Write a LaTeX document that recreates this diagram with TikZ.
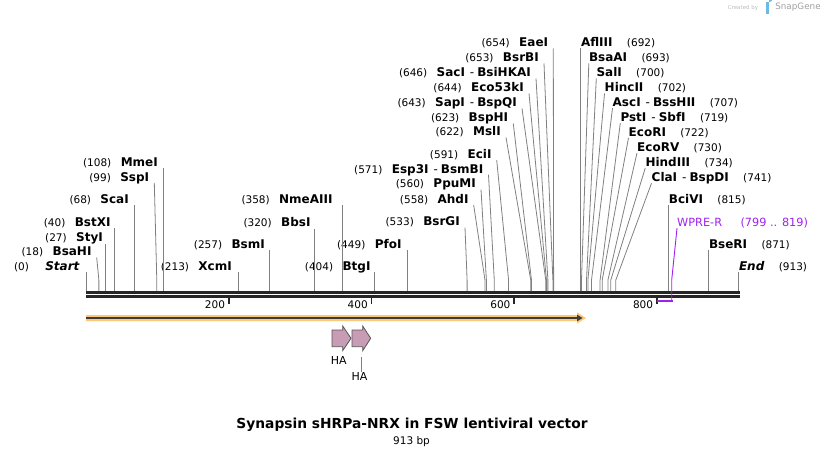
\documentclass[tikz,border=0pt]{standalone}
\usepackage{fontspec}
\setmainfont{DejaVu Sans}
\usetikzlibrary{positioning}

\definecolor{cutline}{HTML}{808080}
\definecolor{spine}{HTML}{262626}
\definecolor{featglow}{HTML}{FCC97A}
\definecolor{featcore}{HTML}{3C3C3C}
\definecolor{hapink}{HTML}{C99CB6}
\definecolor{haedge}{HTML}{555555}
\definecolor{primercol}{HTML}{A020F0}
\definecolor{wmgray}{HTML}{A0A0A0}
\definecolor{wmblue}{HTML}{6FB8E6}

\newcommand{\isodash}{\hspace{5pt}\textmd{-}\hspace{3pt}}

\begin{document}
\begin{tikzpicture}[x=1pt, y=-1pt,
    enz/.style={font=\bfseries\fontsize{12}{14}\selectfont, inner sep=0pt, text depth=1.5pt},
    num/.style={font=\fontsize{10.5}{12}\selectfont, inner sep=0pt},
    prim/.style={font=\fontsize{11.3}{13}\selectfont, inner sep=0pt, text depth=1.5pt, text=primercol},
    cut/.style={cutline, line width=0.8pt},
    tick/.style={spine, line width=1.8pt},
    feat/.style={fill=hapink, draw=haedge, line width=0.8pt}
]
    \useasboundingbox (0,0) rectangle (826,457);

    % cut positions on the backbone
    \foreach \p in {0,18,27,40,68,99,108,213,257,320,358,404,449,533,558,560,571,591,
                    622,623,643,644,646,653,654,692,693,700,702,707,719,722,730,734,741,815,871,913}
        \coordinate (s\p) at ({86+0.715*\p},291);

    % backbone and ruler
    \draw[spine, line width=3pt] (86,292.5) -- (740,292.5);
    \draw[spine, line width=2.7pt] (86,296.7) -- (740,296.7);
    \foreach \t in {200,400,600,800} {
        \draw[tick] ({86+0.7135*\t},298) -- ({86+0.7135*\t},304);
        \node[num, anchor=base east] (tick\t) at ({82.5+0.7135*\t},308.5) {\t};
    }

    % sites, labels on the left
    \node[enz, anchor=base east] (seqstart) at (80,270.5) {\textit{Start}};
    \node[enz, anchor=base east] (bsahi) at (91.7,255.8) {BsaHI};
    \node[enz, anchor=base east] (styi) at (103,241.8) {StyI};
    \node[enz, anchor=base east] (bstxi) at (110.7,226.5) {BstXI};
    \node[enz, anchor=base east] (scai) at (129,203.5) {ScaI};
    \node[enz, anchor=base east] (sspi) at (149.3,181.2) {SspI};
    \node[enz, anchor=base east] (mmei) at (158,166.8) {MmeI};
    \node[enz, anchor=base east] (xcmi) at (232,270.5) {XcmI};
    \node[enz, anchor=base east] (bsmi) at (265,248.5) {BsmI};
    \node[enz, anchor=base east] (bbsi) at (310.7,226.8) {BbsI};
    \node[enz, anchor=base east] (nmeaiii) at (332.7,203.5) {NmeAIII};
    \node[enz, anchor=base east] (btgi) at (370.7,270.5) {BtgI};
    \node[enz, anchor=base east] (pfoi) at (401.7,248.5) {PfoI};
    \node[enz, anchor=base east] (bsrgi) at (460,225.8) {BsrGI};
    \node[enz, anchor=base east] (ahdi) at (468.7,203.5) {AhdI};
    \node[enz, anchor=base east] (ppumi) at (476,187.8) {PpuMI};
    \node[enz, anchor=base east] (esp3i) at (483.5,173) {Esp3I\isodash BsmBI};
    \node[enz, anchor=base east] (ecii) at (491.7,158.5) {EciI};
    \node[enz, anchor=base east] (msli) at (501,135.8) {MslI};
    \node[enz, anchor=base east] (bsphi) at (508.3,121.8) {BspHI};
    \node[enz, anchor=base east] (sapi) at (517,106.8) {SapI\isodash BspQI};
    \node[enz, anchor=base east] (eco53ki) at (524,91.8) {Eco53kI};
    \node[enz, anchor=base east] (saci) at (531,76.8) {SacI\isodash BsiHKAI};
    \node[enz, anchor=base east] (bsrbi) at (539,61.8) {BsrBI};
    \node[enz, anchor=base east] (eaei) at (548.3,46.8) {EaeI};

    \node[num, base left=16pt of seqstart] (seqstart-n) {(0)};
    \node[num, base left=9pt of bsahi] (bsahi-n) {(18)};
    \node[num, base left=9pt of styi] (styi-n) {(27)};
    \node[num, base left=9pt of bstxi] (bstxi-n) {(40)};
    \node[num, base left=9pt of scai] (scai-n) {(68)};
    \node[num, base left=9pt of sspi] (sspi-n) {(99)};
    \node[num, base left=9pt of mmei] (mmei-n) {(108)};
    \node[num, base left=9pt of xcmi] (xcmi-n) {(213)};
    \node[num, base left=9pt of bsmi] (bsmi-n) {(257)};
    \node[num, base left=9pt of bbsi] (bbsi-n) {(320)};
    \node[num, base left=9pt of nmeaiii] (nmeaiii-n) {(358)};
    \node[num, base left=9pt of btgi] (btgi-n) {(404)};
    \node[num, base left=9pt of pfoi] (pfoi-n) {(449)};
    \node[num, base left=9pt of bsrgi] (bsrgi-n) {(533)};
    \node[num, base left=9pt of ahdi] (ahdi-n) {(558)};
    \node[num, base left=9pt of ppumi] (ppumi-n) {(560)};
    \node[num, base left=9pt of esp3i] (esp3i-n) {(571)};
    \node[num, base left=9pt of ecii] (ecii-n) {(591)};
    \node[num, base left=9pt of msli] (msli-n) {(622)};
    \node[num, base left=9pt of bsphi] (bsphi-n) {(623)};
    \node[num, base left=9pt of sapi] (sapi-n) {(643)};
    \node[num, base left=9pt of eco53ki] (eco53ki-n) {(644)};
    \node[num, base left=9pt of saci] (saci-n) {(646)};
    \node[num, base left=9pt of bsrbi] (bsrbi-n) {(653)};
    \node[num, base left=9pt of eaei] (eaei-n) {(654)};

    % sites, labels on the right
    \node[enz, anchor=base west] (afliii) at (580.8,46.5) {AflIII};
    \node[enz, anchor=base west] (bsaai) at (588.8,61.8) {BsaAI};
    \node[enz, anchor=base west] (sali) at (596.3,76.8) {SalI};
    \node[enz, anchor=base west] (hincii) at (604.5,91.8) {HincII};
    \node[enz, anchor=base west] (asci) at (612.5,106.5) {AscI\isodash BssHII};
    \node[enz, anchor=base west] (psti) at (620.3,121.5) {PstI\isodash SbfI};
    \node[enz, anchor=base west] (ecori) at (628.5,136.2) {EcoRI};
    \node[enz, anchor=base west] (ecorv) at (637,151.2) {EcoRV};
    \node[enz, anchor=base west] (hindiii) at (645.3,166.2) {HindIII};
    \node[enz, anchor=base west] (clai) at (651.5,181.5) {ClaI\isodash BspDI};
    \node[enz, anchor=base west] (bcivi) at (668.7,203.5) {BciVI};
    \node[enz, anchor=base west] (bseri) at (708.8,248.5) {BseRI};
    \node[enz, anchor=base west] (seqend) at (738.8,270.5) {\textit{End}};

    \node[num, base right=14pt of afliii] (afliii-n) {(692)};
    \node[num, base right=14pt of bsaai] (bsaai-n) {(693)};
    \node[num, base right=14pt of sali] (sali-n) {(700)};
    \node[num, base right=14pt of hincii] (hincii-n) {(702)};
    \node[num, base right=14pt of asci] (asci-n) {(707)};
    \node[num, base right=14pt of psti] (psti-n) {(719)};
    \node[num, base right=14pt of ecori] (ecori-n) {(722)};
    \node[num, base right=14pt of ecorv] (ecorv-n) {(730)};
    \node[num, base right=14pt of hindiii] (hindiii-n) {(734)};
    \node[num, base right=14pt of clai] (clai-n) {(741)};
    \node[num, base right=14pt of bcivi] (bcivi-n) {(815)};
    \node[num, base right=14pt of bseri] (bseri-n) {(871)};
    \node[num, base right=14pt of seqend] (seqend-n) {(913)};

    % straight cut lines
    \draw[cut] (s0) -- (s0 |- seqstart.south);
    \draw[cut] (s27) -- (s27 |- styi.south);
    \draw[cut] (s40) -- (s40 |- bstxi.south);
    \draw[cut] (s68) -- (s68 |- scai.south);
    \draw[cut] (s108) -- (s108 |- mmei.south);
    \draw[cut] (s213) -- (s213 |- xcmi.south);
    \draw[cut] (s257) -- (s257 |- bsmi.south);
    \draw[cut] (s320) -- (s320 |- bbsi.south);
    \draw[cut] (s358) -- (s358 |- nmeaiii.south);
    \draw[cut] (s404) -- (s404 |- btgi.south);
    \draw[cut] (s449) -- (s449 |- pfoi.south);
    \draw[cut] (s692) -- (s692 |- afliii.south);
    \draw[cut] (s815) -- (s815 |- bcivi.south);
    \draw[cut] (s871) -- (s871 |- bseri.south);
    \draw[cut] (s913) -- (s913 |- seqend.south);

    % bent cut lines
    \draw[cut] (s18) -- ++(0,-11) -- ([xshift=5pt]bsahi.south east);
    \draw[cut] (s99) -- ++(0,-11) -- ([xshift=5pt]sspi.south east);
    \draw[cut] (s533) -- ++(0,-11) -- ([xshift=5pt]bsrgi.south east);
    \draw[cut] (s558) -- ++(0,-11) -- ([xshift=5pt]ahdi.south east);
    \draw[cut] (s560) -- ++(0,-11) -- ([xshift=5pt]ppumi.south east);
    \draw[cut] (s571) -- ++(0,-11) -- ([xshift=5pt]esp3i.south east);
    \draw[cut] (s591) -- ++(0,-11) -- ([xshift=5pt]ecii.south east);
    \draw[cut] (s622) -- ++(0,-11) -- ([xshift=5pt]msli.south east);
    \draw[cut] (s623) -- ++(0,-11) -- ([xshift=5pt]bsphi.south east);
    \draw[cut] (s643) -- ++(0,-11) -- ([xshift=5pt]sapi.south east);
    \draw[cut] (s644) -- ++(0,-11) -- ([xshift=5pt]eco53ki.south east);
    \draw[cut] (s646) -- ++(0,-11) -- ([xshift=5pt]saci.south east);
    \draw[cut] (s653) -- ++(0,-11) -- ([xshift=5pt]bsrbi.south east);
    \draw[cut] (s654) -- ++(0,-11) -- ([xshift=5pt]eaei.south east);
    \draw[cut] (s693) -- ++(0,-11) -- (bsaai.south west);
    \draw[cut] (s700) -- ++(0,-11) -- (sali.south west);
    \draw[cut] (s702) -- ++(0,-11) -- (hincii.south west);
    \draw[cut] (s707) -- ++(0,-11) -- (asci.south west);
    \draw[cut] (s719) -- ++(0,-11) -- (psti.south west);
    \draw[cut] (s722) -- ++(0,-11) -- (ecori.south west);
    \draw[cut] (s730) -- ++(0,-11) -- (ecorv.south west);
    \draw[cut] (s734) -- ++(0,-11) -- (hindiii.south west);
    \draw[cut] (s741) -- ++(0,-11) -- (clai.south west);

    % primer WPRE-R
    \node[prim, anchor=base west] (wpre) at (677,226.5) {WPRE-R};
    \node[prim, base right=18pt of wpre] (wpre-n) {(799 .. 819)};
    \coordinate (wpre-end) at (671.7,300.7);
    \draw[primercol, line width=2pt] (656.7,300.7) -- ([xshift=0.8pt]wpre-end);
    \draw[primercol, line width=0.9pt] (wpre-end) -- ++(0,-20.7) -- (wpre.south west);

    % long feature arrow
    \fill[featglow] (86,315) -- (577,315) -- (577,312.3) -- (586,318) -- (577,323.7) -- (577,321) -- (86,321) -- cycle;
    \draw[featcore, line width=2pt] (86,318) -- (578,318);
    \fill[featcore] (577,314.6) -- (582.5,318) -- (577,321.4) -- cycle;

    % HA tags
    \filldraw[feat] (332,330) -- (342.7,330) -- (342.7,326) -- (351,338.3) -- (342.7,350.7) -- (342.7,346.7) -- (332,346.7) -- cycle;
    \filldraw[feat] (352,330) -- (362.7,330) -- (362.7,326) -- (370.7,338.3) -- (362.7,350.7) -- (362.7,346.7) -- (352,346.7) -- cycle;
    \node[num, font=\fontsize{11}{13}\selectfont] (ha1) at (338.7,360) {HA};
    \node[num, font=\fontsize{11}{13}\selectfont] (ha2) at (359.5,376) {HA};
    \coordinate (ha2-tag) at (361.7,357);
    \draw[cut] (ha2-tag) -- (ha2-tag |- ha2.north);

    % title
    \node[font=\bfseries\fontsize{13.8}{16}\selectfont, inner sep=0pt] (title) at (412,425) {Synapsin sHRPa-NRX in FSW lentiviral vector};
    \node[num] (size) at (411.5,441.7) {913 bp};

    % watermark
    \node[font=\fontsize{5.5}{6}\selectfont, text=wmgray!70, inner sep=0pt] (cby) at (743,7.5) {Created by};
    \fill[wmblue] (765.5,2) rectangle (768.5,14);
    \fill[wmblue] (768.5,2) -- (769.5,2) arc[start angle=90, end angle=-90, radius=3] -- (768.5,8) -- cycle;
    \node[font=\fontsize{8.8}{10}\selectfont, text=wmgray, inner sep=0pt] (sg) at (798,7.5) {SnapGene};
\end{tikzpicture}
\end{document}
